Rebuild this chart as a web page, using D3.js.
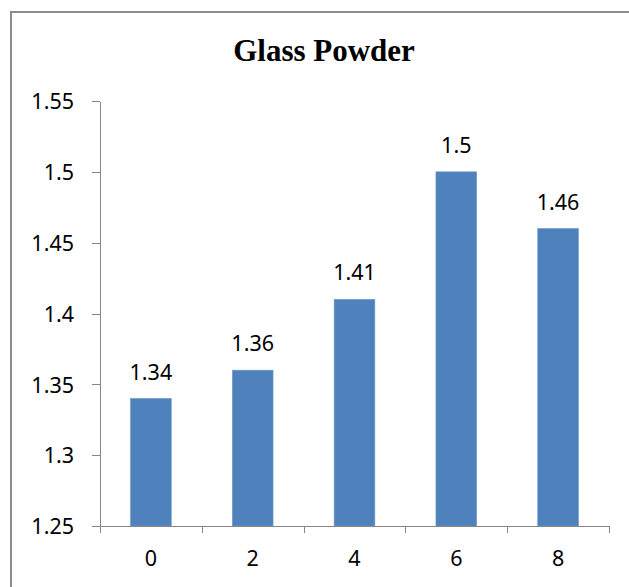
<!DOCTYPE html>
<html>
<head>
<meta charset="utf-8">
<script src="https://cdn.jsdelivr.net/npm/d3@7"></script>
<style>
  html, body { margin: 0; padding: 0; background: #fff; overflow: hidden; }
  svg { display: block; }
  .axis path, .axis line { stroke: #868686; stroke-width: 1px; shape-rendering: crispEdges; }
  .axis text { font-family: "Noto Sans", "Open Sans", sans-serif; font-size: 21.5px; fill: #000; }
</style>
</head>
<body>
<svg id="chart" width="629" height="587"></svg>
<script>
// Chart data
const title = "Glass Powder";
const categories = ["0", "2", "4", "6", "8"];
const values = [1.34, 1.36, 1.41, 1.5, 1.46];
const yTickValues = [1.25, 1.3, 1.35, 1.4, 1.45, 1.5, 1.55];
const yTickLabels = ["1.25", "1.3", "1.35", "1.4", "1.45", "1.5", "1.55"];

const svg = d3.select("#chart");

// Chart frame: only its top and left edges fall inside the page
svg.append("path")
  .attr("d", "M11,600 V12 H640")
  .attr("fill", "none")
  .attr("stroke", "#8c8c8c")
  .attr("stroke-width", 2);

const plot = { left: 100, right: 609, top: 101, bottom: 526 };

const x = d3.scaleBand()
  .domain(categories)
  .range([plot.left, plot.right])
  .paddingInner(0.6)
  .paddingOuter(0.3);

const y = d3.scaleLinear()
  .domain([1.25, 1.55])
  .range([plot.bottom, plot.top]);

// Title
svg.append("text")
  .attr("x", 324)
  .attr("y", 61)
  .attr("text-anchor", "middle")
  .attr("font-family", "'Liberation Serif', 'Times New Roman', serif")
  .attr("font-weight", "bold")
  .attr("font-size", 31)
  .text(title);

// Bars
svg.append("g").selectAll("rect")
  .data(values)
  .join("rect")
  .attr("x", (d, i) => x(categories[i]))
  .attr("y", d => y(d))
  .attr("width", x.bandwidth())
  .attr("height", d => y(1.25) - y(d))
  .attr("fill", "#4f81bd")
  .attr("stroke", "#6f98cb")
  .attr("stroke-width", 0.6);

// Value labels above bars
svg.append("g").selectAll("text")
  .data(values)
  .join("text")
  .attr("x", (d, i) => x(categories[i]) + x.bandwidth() / 2)
  .attr("y", d => y(d) - 19)
  .attr("text-anchor", "middle")
  .attr("font-family", "'Noto Sans', 'Open Sans', sans-serif")
  .attr("font-size", 21.5)
  .text(d => String(d));

// Y axis
const yAxis = d3.axisLeft(y)
  .tickValues(yTickValues)
  .tickFormat((d, i) => yTickLabels[i])
  .tickSize(8)
  .tickSizeOuter(0)
  .tickPadding(18);
const gy = svg.append("g")
  .attr("class", "axis")
  .attr("transform", `translate(${plot.left},0)`)
  .call(yAxis);
gy.selectAll("text").attr("dy", "0.36em");

// X axis: tick marks at category boundaries, labels at category centres
const edge = d3.scaleLinear().domain([0, categories.length]).range([plot.left, plot.right]);
svg.append("g")
  .attr("class", "axis")
  .attr("transform", `translate(0,${plot.bottom})`)
  .call(d3.axisBottom(edge)
    .tickValues(d3.range(categories.length + 1))
    .tickFormat("")
    .tickSize(7)
    .tickSizeOuter(0));

svg.append("g")
  .attr("class", "axis")
  .attr("transform", `translate(0,${plot.bottom})`)
  .call(d3.axisBottom(x).tickSize(0).tickPadding(25))
  .call(g => g.select(".domain").remove());
</script>
</body>
</html>
